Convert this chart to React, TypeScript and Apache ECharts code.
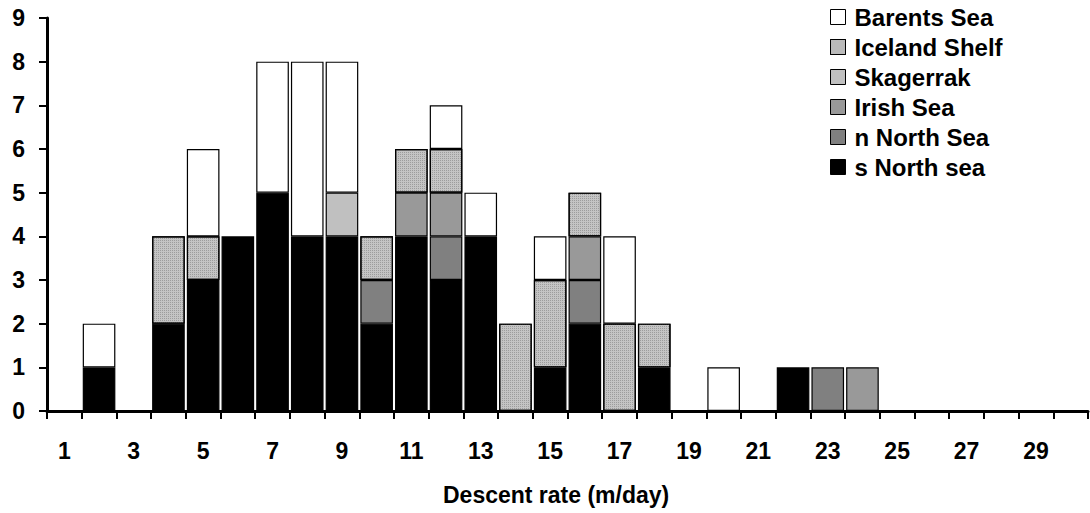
import React, { useEffect, useRef } from "react";
import * as echarts from "echarts";

const categories = Array.from({ length: 30 }, (_, i) => String(i + 1));
const yTicks = [0, 1, 2, 3, 4, 5, 6, 7, 8, 9];

// counts per descent-rate class (1..30 m/day)
const sNorthSea = [0, 1, 0, 2, 3, 4, 5, 4, 4, 2, 4, 3, 4, 0, 1, 2, 0, 1, 0, 0, 0, 1, 0, 0, 0, 0, 0, 0, 0, 0];
const nNorthSea = [0, 0, 0, 0, 0, 0, 0, 0, 0, 1, 0, 1, 0, 0, 0, 1, 0, 0, 0, 0, 0, 0, 1, 0, 0, 0, 0, 0, 0, 0];
const irishSea = [0, 0, 0, 0, 0, 0, 0, 0, 0, 0, 1, 1, 0, 0, 0, 1, 0, 0, 0, 0, 0, 0, 0, 1, 0, 0, 0, 0, 0, 0];
const skagerrak = [0, 0, 0, 0, 0, 0, 0, 0, 1, 0, 0, 0, 0, 0, 0, 0, 0, 0, 0, 0, 0, 0, 0, 0, 0, 0, 0, 0, 0, 0];
const icelandShelf = [0, 0, 0, 2, 1, 0, 0, 0, 0, 1, 1, 1, 0, 2, 2, 1, 2, 1, 0, 0, 0, 0, 0, 0, 0, 0, 0, 0, 0, 0];
const barentsSea = [0, 1, 0, 0, 2, 0, 3, 4, 3, 0, 0, 1, 1, 0, 1, 0, 2, 0, 0, 1, 0, 0, 0, 0, 0, 0, 0, 0, 0, 0];

const seriesDefs = [
  { name: "s North sea", data: sNorthSea, color: "#000000" },
  { name: "n North Sea", data: nNorthSea, color: "#808080" },
  { name: "Irish Sea", data: irishSea, color: "#999999" },
  { name: "Skagerrak", data: skagerrak, color: "#c0c0c0" },
  { name: "Iceland Shelf", data: icelandShelf, color: "#c4c4c4", decal: true },
  { name: "Barents Sea", data: barentsSea, color: "#ffffff" },
];
const legendOrder = ["Barents Sea", "Iceland Shelf", "Skagerrak", "Irish Sea", "n North Sea", "s North sea"];

const FONT = "Arial, 'Liberation Sans', sans-serif";

export default function App() {
  const ref = useRef<HTMLDivElement>(null);
  useEffect(() => {
    if (!ref.current) return;
    const chart = echarts.init(ref.current, null, { renderer: "svg" });
    chart.setOption({
      animation: false,
      backgroundColor: "#ffffff",
      textStyle: { fontFamily: FONT },
      grid: { left: 47, right: 2, top: 18, bottom: 102, containLabel: false },
      legend: {
        data: legendOrder,
        orient: "vertical",
        left: 825,
        top: 0,
        itemWidth: 15,
        itemHeight: 15,
        itemGap: 6,
        icon: "rect",
        selectedMode: false,
        itemStyle: { borderColor: "#000", borderWidth: 1 },
        textStyle: {
          fontFamily: FONT,
          fontWeight: "bold",
          fontSize: 24,
          lineHeight: 24,
          color: "#000",
          padding: [0, 0, 0, 4],
        },
      },
      xAxis: {
        type: "category",
        data: categories,
        axisLine: { lineStyle: { color: "#000", width: 3 } },
        axisTick: { show: true, interval: 0, length: 8, lineStyle: { color: "#000", width: 2 } },
        axisLabel: {
          interval: 1,
          margin: 28,
          fontFamily: FONT,
          fontWeight: "bold",
          fontSize: 23,
          color: "#000",
        },
      },
      yAxis: {
        type: "value",
        min: yTicks[0],
        max: yTicks[yTicks.length - 1],
        interval: 1,
        splitLine: { show: false },
        axisLine: { show: true, lineStyle: { color: "#000", width: 3 } },
        axisTick: { show: true, length: 8, lineStyle: { color: "#000", width: 2 } },
        axisLabel: { margin: 22, fontFamily: FONT, fontWeight: "bold", fontSize: 23, color: "#000" },
      },
      graphic: [
        {
          type: "text",
          left: 443,
          top: 483,
          style: { text: "Descent rate (m/day)", font: `bold 23px ${FONT}`, fill: "#000" },
        },
      ],
      series: seriesDefs.map((s) => ({
        name: s.name,
        type: "bar",
        stack: "total",
        barCategoryGap: "6%",
        data: s.data.map((v) => (v === 0 ? "-" : v)),
        itemStyle: {
          color: s.color,
          borderColor: "#000",
          borderWidth: 1.2,
          ...(s.decal
            ? {
                decal: {
                  symbol: "rect",
                  symbolSize: 1,
                  dashArrayX: [1, 1],
                  dashArrayY: [1, 1],
                  color: "rgba(140,140,140,0.7)",
                  rotation: 0,
                },
              }
            : {}),
        },
      })),
    });
    return () => chart.dispose();
  }, []);
  return <div ref={ref} style={{ width: 1090, height: 513, position: "absolute", left: 0, top: 0 }} />;
}
